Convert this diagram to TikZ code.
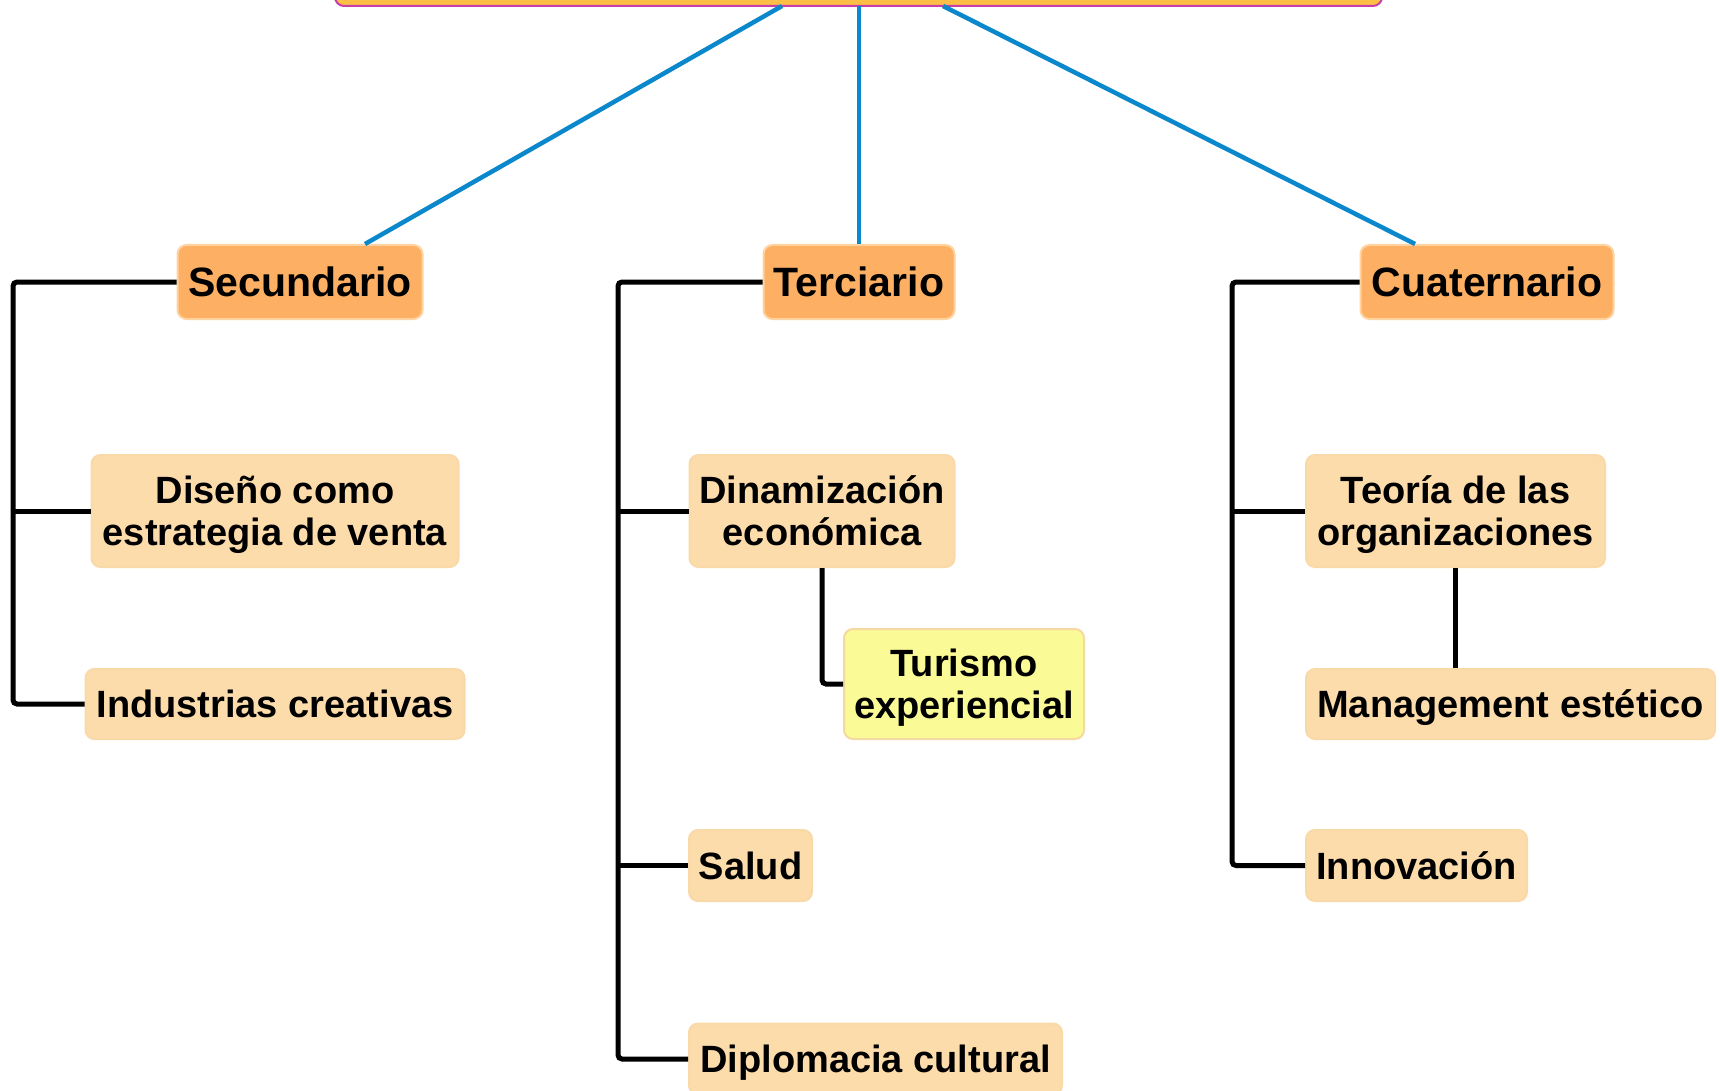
\documentclass[tikz,border=0pt]{standalone}
\usepackage{fontspec}
\setmainfont{Liberation Sans}
\usetikzlibrary{calc}
\definecolor{topfill}{HTML}{FFBE46}
\definecolor{topline}{HTML}{C63FA8}
\definecolor{mainfill}{HTML}{FDB063}
\definecolor{mainline}{HTML}{FFD3A0}
\definecolor{subfill}{HTML}{FDDCAB}
\definecolor{subline}{HTML}{F9D9A8}
\definecolor{yelfill}{HTML}{FAFA96}
\definecolor{yelline}{HTML}{F4D9A0}
\definecolor{bluel}{HTML}{0B88CC}
\tikzset{
  mainbox/.style={draw=mainline, line width=2pt, fill=mainfill, rounded corners=9pt, inner sep=0pt,
    text depth=0pt, font=\fontsize{41}{45}\selectfont\bfseries, align=center},
  subbox/.style={draw=subline, line width=2pt, fill=subfill, rounded corners=9pt, inner sep=0pt,
    text depth=0pt, font=\fontsize{38}{42}\selectfont\bfseries, align=center},
  yelbox/.style={subbox, draw=yelline, fill=yelfill},
  blueline/.style={draw=bluel, line width=4.5pt},
  blackline/.style={draw=black, line width=5pt, rounded corners=4pt}
}
\begin{document}
\begin{tikzpicture}[x=1pt,y=-1pt]
\useasboundingbox (0,0) rectangle (1720,1091);
% top box (cut off)
\node[draw=topline, line width=2pt, fill=topfill, rounded corners=9pt, minimum width=1047pt, minimum height=80pt, inner sep=0pt] (top) at (858.5,-34) {};
% main nodes
\node[mainbox, minimum width=245pt, minimum height=74pt] (sec) at (300,282) {Secundario};
\node[mainbox, minimum width=191pt, minimum height=74pt] (ter) at (859,282) {Terciario};
\node[mainbox, minimum width=253pt, minimum height=74pt] (cua) at (1487,282) {Cuaternario};
% sub nodes
\node[subbox, minimum width=367pt, minimum height=112pt] (dis) at (275,511) {Diseño como\\estrategia de venta};
\node[subbox, minimum width=379pt, minimum height=70pt] (ind) at (275,704) {Industrias creativas};
\node[subbox, minimum width=265pt, minimum height=112pt] (din) at (822,511) {Dinamización\\económica};
\node[yelbox, minimum width=240pt, minimum height=110pt] (tur) at (964,684) {Turismo\\experiencial};
\node[subbox, minimum width=123pt, minimum height=71pt] (sal) at (750.5,865.5) {Salud};
\node[subbox, minimum width=373pt, minimum height=71pt] (dip) at (875.5,1059) {Diplomacia cultural};
\node[subbox, minimum width=299pt, minimum height=112pt] (teo) at (1455.5,511) {Teoría de las\\organizaciones};
\node[subbox, minimum width=409pt, minimum height=70pt] (man) at (1510.5,704) {Management estético};
\node[subbox, minimum width=221pt, minimum height=71pt] (inn) at (1416.5,865.5) {Innovación};
% blue connectors
\coordinate (t1) at (782,6);
\coordinate (t2) at (859,6);
\coordinate (t3) at (943,6);
\draw[blueline] (t1) -- ([xshift=65pt]sec.north);
\draw[blueline] (t2) -- (ter.north);
\draw[blueline] (t3) -- ([xshift=-72pt]cua.north);
% black brackets
\coordinate (sx) at (13,0);
\coordinate (tx) at (618,0);
\coordinate (cx) at (1232,0);
\draw[blackline] (sec.west) -- (sec.west -| sx) |- (ind.west);
\draw[blackline] (dis.west -| sx) -- (dis.west);
\draw[blackline] (ter.west) -- (ter.west -| tx) |- (dip.west);
\draw[blackline] (din.west -| tx) -- (din.west);
\draw[blackline] (sal.west -| tx) -- (sal.west);
\draw[blackline] (din.south) |- (tur.west);
\draw[blackline] (cua.west) -- (cua.west -| cx) |- (inn.west);
\draw[blackline] (teo.west -| cx) -- (teo.west);
\draw[blackline] (teo.south) -- (teo.south |- man.north);
\end{tikzpicture}
\end{document}
